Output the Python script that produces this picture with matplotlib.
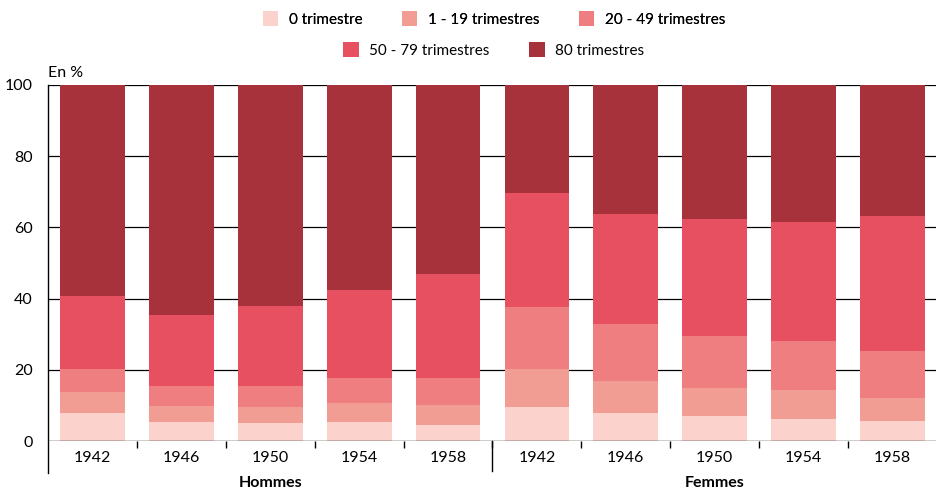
import matplotlib
matplotlib.use("Agg")
import matplotlib.pyplot as plt
import matplotlib.transforms as mtransforms
from matplotlib.patches import Patch
import numpy as np

plt.rcParams['font.family'] = ['Lato', 'DejaVu Sans']

years = ["1942", "1946", "1950", "1954", "1958", "1942", "1946", "1950", "1954", "1958"]
groups = ["Hommes", "Femmes"]
series_names = ["0 trimestre", "1 - 19 trimestres", "20 - 49 trimestres",
                "50 - 79 trimestres", "80 trimestres"]
s0 = [7.9, 5.4, 5.1, 5.4, 4.5, 9.6, 7.9, 7.0, 6.2, 5.6]
s1 = [5.9, 4.5, 4.5, 5.4, 5.6, 10.7, 9.0, 7.9, 8.2, 6.5]
s2 = [6.5, 5.6, 5.9, 7.0, 7.7, 17.4, 16.1, 14.7, 13.8, 13.3]
s3 = [20.3, 20.0, 22.5, 24.5, 29.2, 31.9, 30.7, 32.7, 33.2, 37.7]
s4 = [59.4, 64.5, 62.0, 57.7, 53.0, 30.4, 36.3, 37.7, 38.6, 36.9]
colors = ["#FBD3CC", "#F29D94", "#EE7E80", "#E75061", "#A8323C"]

FS = 11.5

fig = plt.figure(figsize=(9.37, 4.9), dpi=100)
ax = fig.add_axes([48/937, 1-441/490, 1-48/937, (441-85)/490])

x = np.arange(len(years))
bottom = np.zeros(len(years))
handles = []
for vals, c, name in zip([s0, s1, s2, s3, s4], colors, series_names):
    ax.bar(x, vals, bottom=bottom, width=0.73, color=c, zorder=2, linewidth=0)
    bottom += np.array(vals)
    handles.append(Patch(facecolor=c, edgecolor='none', label=name))

for yv in [20, 40, 60, 80, 100]:
    ax.axhline(yv, color='black', lw=0.9, zorder=1)
ax.axhline(0, color='black', lw=1.0, zorder=3)

ax.set_xlim(-0.5, 9.5)
ax.set_ylim(0, 100)
for s in ['top', 'right', 'bottom', 'left']:
    ax.spines[s].set_visible(False)

ax.set_yticks([0, 20, 40, 60, 80, 100])
ax.tick_params(axis='y', length=0, pad=11, labelsize=FS)
ax.set_xticks(x)
ax.set_xticklabels(years)
ax.tick_params(axis='x', which='major', length=0, pad=7, labelsize=FS)
ax.set_xticks(np.arange(0.5, 9, 1.0), minor=True)
ax.tick_params(axis='x', which='minor', length=5, width=1.0, direction='out', color='black')

trans = mtransforms.blended_transform_factory(ax.transData, ax.transAxes)
ax.plot([4.5, 4.5], [0, -0.085], transform=trans, color='black', lw=1.0, clip_on=False)
ax.plot([0, 0], [1, -0.09], transform=ax.transAxes, color='black', lw=1.0, clip_on=False)

ax.text(2, -0.118, groups[0], transform=trans, ha='center', va='center', fontsize=FS, fontweight='bold')
ax.text(7, -0.118, groups[1], transform=trans, ha='center', va='center', fontsize=FS, fontweight='bold')

fig.text(48/937, 1-73/490, "En %", ha='left', va='center', fontsize=FS)

leg_kw = dict(frameon=False, fontsize=11, handlelength=1.0, handleheight=1.1,
              columnspacing=2.6, handletextpad=0.7)
cx = 494/937
leg1 = fig.legend(handles=handles[:3], loc='center', bbox_to_anchor=(cx, 1-19/490), ncol=3, **leg_kw)
fig.add_artist(leg1)
leg2 = fig.legend(handles=handles[3:], loc='center', bbox_to_anchor=(cx, 1-50/490), ncol=2, **leg_kw)

fig.savefig("out.png", dpi=100)
